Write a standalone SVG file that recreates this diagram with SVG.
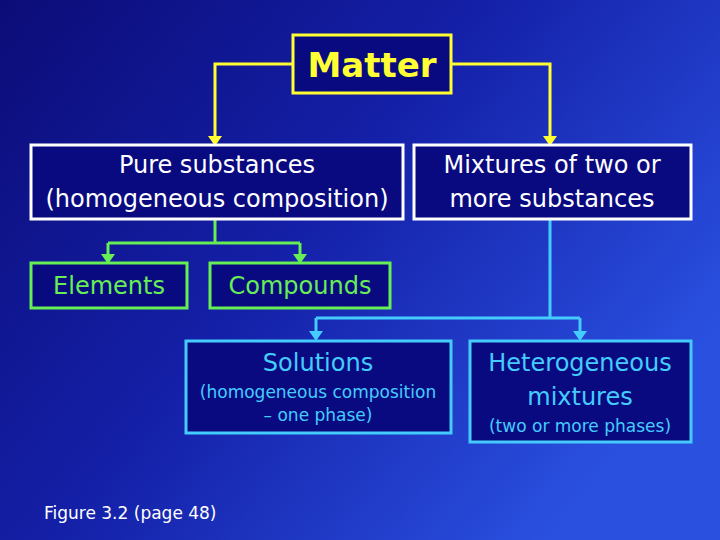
<svg xmlns="http://www.w3.org/2000/svg" width="720" height="540" viewBox="0 0 720 540">
<defs>
<linearGradient id="bg" x1="0" y1="0" x2="1" y2="0.6">
<stop offset="0" stop-color="#0c0c78"/>
<stop offset="0.5" stop-color="#1420a8"/>
<stop offset="1" stop-color="#2a50e0"/>
</linearGradient>
<style>
text{font-family:"DejaVu Sans","Liberation Sans",sans-serif;text-anchor:middle}
.box{fill:#0a0a80;stroke-width:3}
.w{stroke:#ffffff}.y{stroke:#ffff33}.g{stroke:#66ee55}.b{stroke:#44ccff}
.ln{fill:none;stroke-width:3}
</style>
</defs>
<rect width="720" height="540" fill="url(#bg)"/>
<g id="connectors">
<path class="ln y" d="M293,64 H215 V137"/><path d="M208,136 L222,136 L215,146 Z" fill="#ffff33"/>
<path class="ln y" d="M451,64 H550 V137"/><path d="M543,136 L557,136 L550,146 Z" fill="#ffff33"/>
<path class="ln g" d="M215,219 V243 M108,243 H300 M108,243 V255 M300,243 V255"/>
<path d="M101,254 L115,254 L108,264 Z M293,254 L307,254 L300,264 Z" fill="#66ee55"/>
<path class="ln b" d="M550,219 V318 M316,318 H580 M316,318 V332 M580,318 V332"/>
<path d="M309,331 L323,331 L316,341 Z M573,331 L587,331 L580,341 Z" fill="#44ccff"/>
</g>
<g id="matter"><rect class="box y" x="293" y="35" width="158" height="58"/><text x="372" y="77" font-size="34" font-weight="bold" fill="#ffff33">Matter</text></g>
<g id="pure"><rect class="box w" x="31" y="145" width="372" height="74"/><text x="217" y="173" font-size="24" fill="#fff">Pure substances</text><text x="217" y="207" font-size="24" fill="#fff">(homogeneous composition)</text></g>
<g id="mixtures"><rect class="box w" x="414" y="145" width="277" height="74"/><text x="552" y="173" font-size="24" fill="#fff">Mixtures of two or</text><text x="552" y="207" font-size="24" fill="#fff">more substances</text></g>
<g id="elements"><rect class="box g" x="31" y="263" width="156" height="45"/><text x="109" y="294" font-size="24" fill="#66ee55">Elements</text></g>
<g id="compounds"><rect class="box g" x="210" y="263" width="180" height="45"/><text x="300" y="294" font-size="24" fill="#66ee55">Compounds</text></g>
<g id="solutions"><rect class="box b" x="186" y="341" width="265" height="92"/><text x="318" y="371" font-size="24" fill="#44ccff">Solutions</text><text x="318" y="398" font-size="17" fill="#44ccff">(homogeneous composition</text><text x="318" y="421" font-size="17" fill="#44ccff">– one phase)</text></g>
<g id="hetero"><rect class="box b" x="470" y="341" width="221" height="101"/><text x="580" y="371" font-size="24" fill="#44ccff">Heterogeneous</text><text x="580" y="405" font-size="24" fill="#44ccff">mixtures</text><text x="580" y="432" font-size="17" fill="#44ccff">(two or more phases)</text></g>
<text x="44" y="519" font-size="17" fill="#fff" style="text-anchor:start">Figure 3.2 (page 48)</text>
</svg>
